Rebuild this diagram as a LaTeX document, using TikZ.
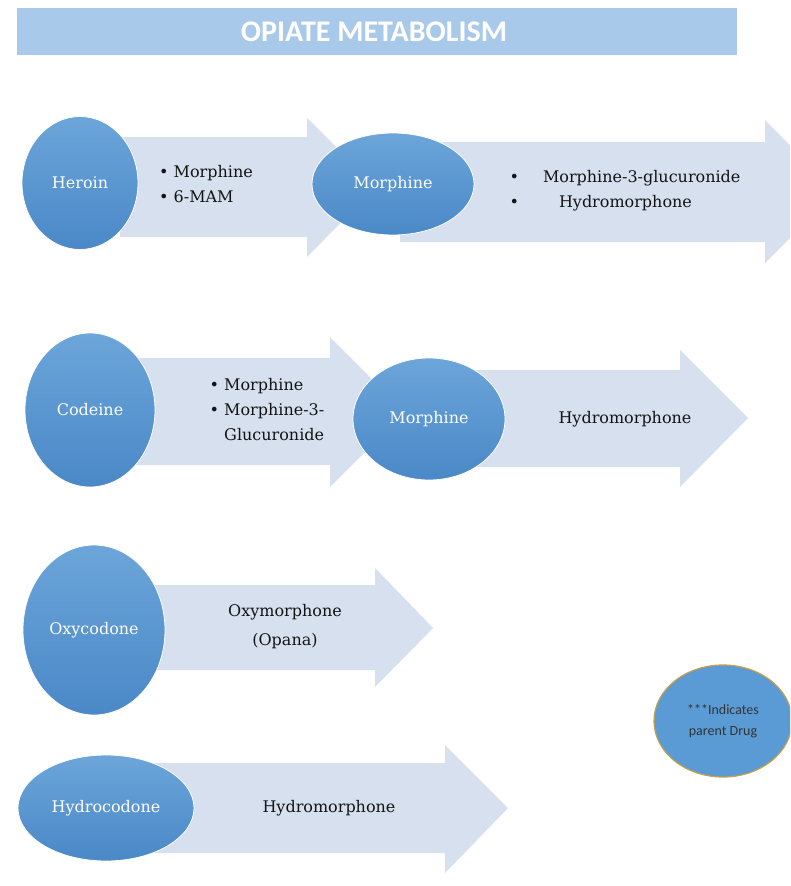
\documentclass[tikz,border=0pt]{standalone}
\usepackage{fontspec}
\setmainfont{DejaVu Serif}
\newfontfamily\calibrifont{Carlito}
\usetikzlibrary{shapes.geometric}
\definecolor{drugblue}{HTML}{5B9BD5}
\definecolor{drugdark}{HTML}{4A88C7}
\definecolor{flowgray}{HTML}{D6E0EF}
\definecolor{titleblue}{HTML}{A9C9EA}
\definecolor{legendrim}{HTML}{BFA24A}
\tikzset{
  drug node/.style={ellipse,inner sep=0pt,top color=drugblue!90!white,bottom color=drugdark,
    draw=white,line width=0.8pt,text=white,font=\fontsize{16}{19}\selectfont},
  flow/.style={fill=flowgray},
  product/.style={text=black!92,font=\fontsize{16}{25}\selectfont,align=left,inner sep=0pt}
}

\begin{document}
\begin{tikzpicture}[x=1pt,y=-1pt]
  \clip (0,0) rectangle (790,886);
  \fill[white] (0,0) rectangle (790,886);
  % title
  \fill[titleblue] (17,8) rectangle (737,55);
  \node (title) at (374,32) {\calibrifont\bfseries\fontsize{30}{32}\selectfont\color{white}OPIATE METABOLISM};

  % heroin row
  \fill[flow] (120,137) -- (307,137) -- (307,118) -- (376,187) -- (307,257) -- (307,237) -- (120,237) -- cycle;
  \node[drug node,minimum width=116pt,minimum height=133pt] (heroin) at (80,183) {Heroin};
  \node[product] (heroinmet) at (206,184) {\textbullet\ Morphine\\\textbullet\ 6-MAM};
  \fill[flow] (400,142) -- (765,142) -- (765,120) -- (836,192) -- (765,263) -- (765,242) -- (400,242) -- cycle;
  \node[drug node,minimum width=162pt,minimum height=102pt] (morph1) at (393,184) {Morphine};
  \node[product] (morph1met) at (625,190) {%
    \begin{tabular}{@{}l@{\hspace{24pt}}l@{}}
      \textbullet & Morphine-3-glucuronide\\
      \textbullet & \hspace{16pt}Hydromorphone
    \end{tabular}};

  % codeine row
  \fill[flow] (120,358) -- (330,358) -- (330,337) -- (405,412) -- (330,487) -- (330,465) -- (120,465) -- cycle;
  \node[drug node,minimum width=130pt,minimum height=154pt] (codeine) at (90,410) {Codeine};
  \node[product] (codeinemet) at (267,410) {\textbullet\ Morphine\\\textbullet\ Morphine-3-\\\phantom{\textbullet\ }Glucuronide};
  \fill[flow] (440,370) -- (680,370) -- (680,350) -- (748,418) -- (680,487) -- (680,467) -- (440,467) -- cycle;
  \node[drug node,minimum width=152pt,minimum height=122pt] (morph2) at (429,419) {Morphine};
  \node[product] (morph2met) at (625,419) {Hydromorphone};

  % oxycodone row
  \fill[flow] (120,585) -- (375,585) -- (375,568) -- (433,628) -- (375,687) -- (375,670) -- (120,670) -- cycle;
  \node[drug node,minimum width=142pt,minimum height=170pt] (oxy) at (94,630) {Oxycodone};
  \node[product,align=center,font=\fontsize{16}{29}\selectfont] (oxymet) at (285,627) {Oxymorphone\\(Opana)};

  % hydrocodone row
  \fill[flow] (150,763) -- (445,763) -- (445,745) -- (508,808) -- (445,873) -- (445,853) -- (150,853) -- cycle;
  \node[drug node,minimum width=176pt,minimum height=106pt] (hydro) at (106,808) {Hydrocodone};
  \node[product] (hydromet) at (329,808) {Hydromorphone};

  % legend
  \node[ellipse,fill=drugblue,draw=legendrim,line width=1.2pt,minimum width=138pt,minimum height=112pt,
    inner sep=0pt,align=center,text=black!80,font=\calibrifont\fontsize{14}{21}\selectfont] (legend) at (723,721)
    {***Indicates\\parent Drug};
\end{tikzpicture}
\end{document}
